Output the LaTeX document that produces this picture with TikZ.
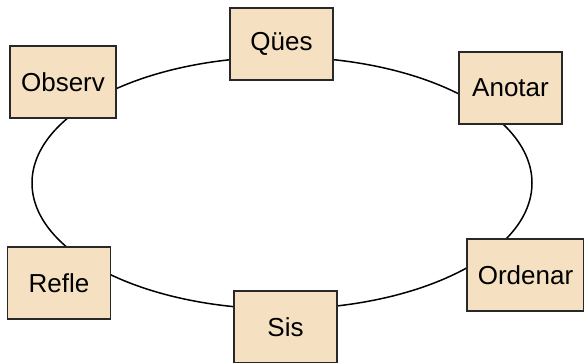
\documentclass[tikz,border=0pt]{standalone}
\usepackage{fontspec}
\setmainfont{Liberation Sans}
\usetikzlibrary{positioning}

\definecolor{boxfill}{RGB}{245,225,194}
\definecolor{boxline}{RGB}{40,40,40}

\begin{document}
\begin{tikzpicture}[x=1pt,y=1pt,
  stage/.style={rectangle,draw=boxline,line width=1.5pt,fill=boxfill,
    minimum width=103pt,minimum height=72pt,inner sep=11pt,
    font=\fontsize{26}{31}\selectfont}]
\useasboundingbox (0,0) rectangle (584,362);

% Ring
\coordinate (mid) at (282,179);
\draw[line width=1.5pt] (mid) ellipse [x radius=250, y radius=126];

% Stages
\node[stage] (ques) at (281.5,318) {Qües};
\node[stage] (anotar) at (510.5,274) {Anotar};
\node[stage] (ordenar) at (525.5,87) {Ordenar};
\node[stage] (sis) at (285.5,35) {Sis};
\node[stage] (refle) at (59,79) {Refle};
\node[stage] (observ) at (63,280) {Observ};
\end{tikzpicture}
\end{document}
